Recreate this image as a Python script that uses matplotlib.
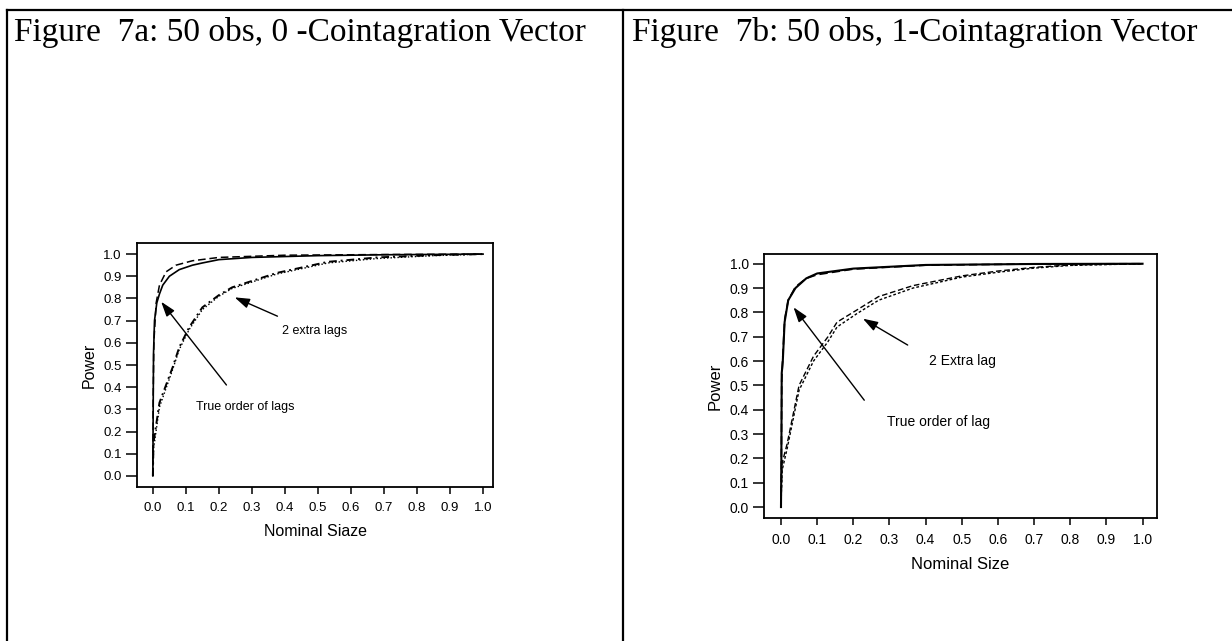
import numpy as np
import matplotlib
matplotlib.use("Agg")
import matplotlib.pyplot as plt

# power curves read off the size-power plots, 50 observations
# panel a: 0 cointegration vectors
a_true_x = [0.0, 0.001, 0.002, 0.005, 0.012, 0.02, 0.03, 0.05, 0.08, 0.12, 0.15, 0.2, 0.3, 0.5, 0.7, 1.0]
a_true_y = [0.0, 0.3, 0.55, 0.70, 0.78, 0.82, 0.86, 0.90, 0.93, 0.95, 0.96, 0.975, 0.985, 0.993, 0.997, 1.0]
a_true2_x = [0.0, 0.001, 0.003, 0.01, 0.02, 0.04, 0.07, 0.12, 0.2, 0.4, 0.7, 1.0]
a_true2_y = [0.0, 0.35, 0.60, 0.78, 0.86, 0.92, 0.95, 0.97, 0.985, 0.995, 0.998, 1.0]
a_extra_x = [0.0, 0.002, 0.02, 0.06, 0.08, 0.11, 0.15, 0.20, 0.24, 0.375, 0.53, 0.68, 0.85, 1.0]
a_extra_y = [0.0, 0.15, 0.33, 0.49, 0.58, 0.67, 0.76, 0.815, 0.85, 0.915, 0.965, 0.985, 0.995, 1.0]
a_extra2_x = [0.0, 0.002, 0.02, 0.06, 0.08, 0.11, 0.15, 0.20, 0.24, 0.375, 0.53, 0.68, 0.85, 1.0]
a_extra2_y = [0.0, 0.12, 0.31, 0.48, 0.57, 0.66, 0.75, 0.81, 0.845, 0.91, 0.96, 0.98, 0.993, 1.0]

# panel b: 1 cointegration vector
b_true_x = [0.0, 0.001, 0.002, 0.005, 0.01, 0.02, 0.04, 0.07, 0.1, 0.2, 0.4, 0.7, 1.0]
b_true_y = [0.0, 0.2, 0.55, 0.60, 0.76, 0.85, 0.90, 0.94, 0.96, 0.98, 0.995, 0.999, 1.0]
b_true2_x = [0.0, 0.001, 0.002, 0.005, 0.01, 0.02, 0.04, 0.07, 0.1, 0.2, 0.4, 0.7, 1.0]
b_true2_y = [0.0, 0.15, 0.52, 0.62, 0.77, 0.85, 0.905, 0.94, 0.955, 0.978, 0.994, 0.999, 1.0]
b_extra_x = [0.0, 0.003, 0.017, 0.05, 0.09, 0.13, 0.155, 0.21, 0.27, 0.365, 0.5, 0.6, 0.7, 0.8, 1.0]
b_extra_y = [0.0, 0.18, 0.26, 0.50, 0.62, 0.70, 0.76, 0.81, 0.865, 0.91, 0.95, 0.97, 0.985, 0.995, 1.0]
b_extra2_x = [0.0, 0.003, 0.017, 0.05, 0.09, 0.13, 0.155, 0.21, 0.27, 0.365, 0.5, 0.6, 0.7, 0.8, 1.0]
b_extra2_y = [0.0, 0.15, 0.24, 0.48, 0.60, 0.68, 0.74, 0.795, 0.85, 0.90, 0.945, 0.965, 0.982, 0.993, 1.0]

ticks = np.round(np.arange(0, 1.01, 0.1), 1)
tick_labels = ["%.1f" % t for t in ticks]

W, H = 1232, 641
fig = plt.figure(figsize=(W / 100, H / 100), dpi=100)

def px_axes(l, t, r, b):
    return fig.add_axes([l / W, 1 - b / H, (r - l) / W, (b - t) / H])

def fig_line(x0, y0, x1, y1):
    fig.add_artist(plt.Line2D([x0 / W, x1 / W], [1 - y0 / H, 1 - y1 / H],
                              color="black", lw=1.6, transform=fig.transFigure))

# table frame around the two panels
fig_line(7, 10, W, 10)
fig_line(7, 10, 7, H)
fig_line(623, 10, 623, H)

serif = "Liberation Serif"
sans = "Liberation Sans"
fig.text(14 / W, 1 - 33 / H, "Figure  7a: 50 obs, 0 -Cointagration Vector",
         family=serif, fontsize=24, va="center", ha="left")
fig.text(632 / W, 1 - 33 / H, "Figure  7b: 50 obs, 1-Cointagration Vector",
         family=serif, fontsize=24, va="center", ha="left")

def setup(ax, xlim, ylim, fs, xlabel, lab_fs):
    ax.set_xlim(*xlim)
    ax.set_ylim(*ylim)
    ax.set_xticks(ticks)
    ax.set_xticklabels(tick_labels, family=sans, fontsize=fs)
    ax.set_yticks(ticks)
    ax.set_yticklabels(tick_labels, family=sans, fontsize=fs)
    ax.tick_params(axis="x", direction="out", length=5, width=1.1, pad=6)
    ax.tick_params(axis="y", direction="out", length=8, width=1.1, pad=3)
    for s in ax.spines.values():
        s.set_linewidth(1.3)
    ax.set_xlabel(xlabel, family=sans, fontsize=lab_fs, labelpad=7)
    ax.set_ylabel("Power", family=sans, fontsize=lab_fs, labelpad=5)

arrow = dict(arrowstyle="-|>,head_length=0.9,head_width=0.3", color="black", lw=1.0)

# panel a
ax = px_axes(137, 243, 493, 487)
ax.plot(a_true_x, a_true_y, color="black", lw=1.2, ls="-")
ax.plot(a_true2_x, a_true2_y, color="black", lw=1.1, ls=(0, (5, 2.5)))
ax.plot(a_extra_x, a_extra_y, color="black", lw=1.4, ls=(0, (4, 2, 1, 2)))
ax.plot(a_extra2_x, a_extra2_y, color="black", lw=1.0, ls=(0, (1, 1.5)))
setup(ax, (-0.048, 1.03), (-0.05, 1.05), 9.5, "Nominal Siaze", 11.5)
ax.annotate("", xy=(0.24, 0.81), xytext=(0.385, 0.715), arrowprops=arrow)
ax.text(0.39, 0.655, "2 extra lags", family=sans, fontsize=9, ha="left", va="center")
ax.annotate("", xy=(0.02, 0.795), xytext=(0.228, 0.40), arrowprops=arrow)
ax.text(0.28, 0.31, "True order of lags", family=sans, fontsize=9, ha="center", va="center")

# panel b
ax = px_axes(764, 254, 1157, 518)
ax.plot(b_true_x, b_true_y, color="black", lw=1.5, ls="-")
ax.plot(b_true2_x, b_true2_y, color="black", lw=1.2, ls=(0, (5, 2.5)))
ax.plot(b_extra_x, b_extra_y, color="black", lw=1.0, ls=(0, (4, 2)))
ax.plot(b_extra2_x, b_extra2_y, color="black", lw=1.0, ls=(0, (2, 1.5)))
setup(ax, (-0.047, 1.04), (-0.045, 1.04), 10, "Nominal Size", 12)
ax.annotate("", xy=(0.03, 0.83), xytext=(0.235, 0.43), arrowprops=arrow)
ax.text(0.435, 0.35, "True order of lag", family=sans, fontsize=10, ha="center", va="center")
ax.annotate("", xy=(0.22, 0.78), xytext=(0.357, 0.66), arrowprops=arrow)
ax.text(0.41, 0.60, "2 Extra lag", family=sans, fontsize=10, ha="left", va="center")

fig.savefig("out.png", dpi=100)
